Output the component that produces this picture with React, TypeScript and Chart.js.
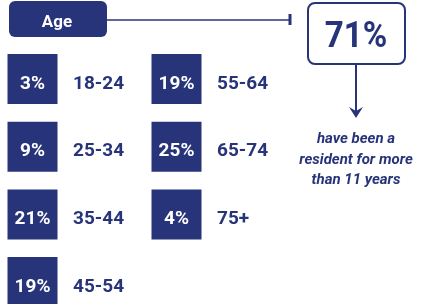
import React, { useEffect, useRef } from 'react';
import { Chart, registerables } from 'chart.js';

Chart.register(...registerables);

// ---- data ----
const ageGroups = ['18-24', '25-34', '35-44', '45-54', '55-64', '65-74', '75+'];
const shares = [3, 9, 21, 19, 19, 25, 4];
const headerLabel = 'Age';
const residentShare = 71;
const residentNote = ['have been a', 'resident for more', 'than 11 years'];
const rowsPerColumn = 4;

// ---- layout / style ----
const NAVY = '#27347a';
const W = 425;
const H = 304;
const COL0 = 32.5;
const COL_GAP = 144;
const ROW0 = 79;
const ROW_GAP = 67.7;
const CELL = 50;
const FONT = 'Roboto, "DejaVu Sans", sans-serif';

const overlayPlugin = {
  id: 'overlay',
  afterDatasetsDraw(chart: any) {
    const ctx: CanvasRenderingContext2D = chart.ctx;
    ctx.save();
    const meta = chart.getDatasetMeta(0);
    meta.data.forEach((pt: any, i: number) => {
      const { x, y } = pt.getProps(['x', 'y'], true);
      ctx.font = `bold 19px ${FONT}`;
      ctx.textBaseline = 'alphabetic';
      ctx.fillStyle = '#ffffff';
      ctx.textAlign = 'center';
      ctx.fillText(`${shares[i]}%`, x, y + 9.5);
      ctx.fillStyle = NAVY;
      ctx.textAlign = 'left';
      ctx.fillText(ageGroups[i], x + 40.5, y + 9.5);
    });

    // header pill
    ctx.fillStyle = NAVY;
    ctx.beginPath();
    ctx.roundRect(9, 1, 98, 36, 6);
    ctx.fill();
    ctx.fillStyle = '#ffffff';
    ctx.font = `bold 17px ${FONT}`;
    ctx.textAlign = 'center';
    ctx.fillText(headerLabel, 57, 27);

    // connector line
    ctx.strokeStyle = NAVY;
    ctx.lineWidth = 1.5;
    ctx.beginPath();
    ctx.moveTo(107, 20);
    ctx.lineTo(290, 20);
    ctx.stroke();
    ctx.lineWidth = 3;
    ctx.beginPath();
    ctx.moveTo(290, 14);
    ctx.lineTo(290, 25);
    ctx.stroke();

    // callout box
    ctx.lineWidth = 2;
    ctx.fillStyle = '#ffffff';
    ctx.beginPath();
    ctx.roundRect(308, 3, 97, 61, 7);
    ctx.fill();
    ctx.stroke();
    ctx.fillStyle = NAVY;
    ctx.font = `bold 36px ${FONT}`;
    ctx.textAlign = 'center';
    ctx.save();
    ctx.translate(356, 47);
    ctx.scale(0.92, 1);
    ctx.fillText(`${residentShare}%`, 0, 0);
    ctx.restore();

    // arrow
    ctx.lineWidth = 2;
    ctx.beginPath();
    ctx.moveTo(356, 64);
    ctx.lineTo(356, 112);
    ctx.stroke();
    ctx.beginPath();
    ctx.moveTo(356, 118);
    ctx.lineTo(349, 107);
    ctx.lineTo(356, 111);
    ctx.lineTo(363, 107);
    ctx.closePath();
    ctx.fill();

    // note
    ctx.font = `italic bold 15px ${FONT}`;
    residentNote.forEach((line, i) => {
      ctx.fillText(line, 356, 143 + i * 20.5);
    });
    ctx.restore();
  },
};

export default function App() {
  const ref = useRef<HTMLCanvasElement>(null);
  useEffect(() => {
    if (!ref.current) return;
    const points = shares.map((_, i) => ({
      x: Math.floor(i / rowsPerColumn),
      y: i % rowsPerColumn,
    }));
    const xMin = -COL0 / COL_GAP;
    const yMin = -ROW0 / ROW_GAP;
    const chart = new Chart(ref.current, {
      type: 'scatter',
      data: {
        datasets: [
          {
            data: points,
            pointStyle: 'rect',
            pointRadius: CELL / Math.SQRT2,
            pointHoverRadius: CELL / Math.SQRT2,
            backgroundColor: NAVY,
            borderWidth: 0,
          },
        ],
      },
      options: {
        animation: false,
        responsive: false,
        devicePixelRatio: 1,
        layout: { padding: 0, autoPadding: false },
        plugins: { legend: { display: false }, tooltip: { enabled: false } },
        events: [],
        scales: {
          x: { type: 'linear', display: false, min: xMin, max: xMin + W / COL_GAP },
          y: { type: 'linear', display: false, reverse: true, min: yMin, max: yMin + H / ROW_GAP },
        },
      },
      plugins: [overlayPlugin],
    });
    return () => chart.destroy();
  }, []);
  return (
    <div style={{ position: 'absolute', left: 0, top: 0, width: W, height: H, background: '#fff' }}>
      <canvas ref={ref} width={W} height={H} style={{ display: 'block' }} />
    </div>
  );
}
